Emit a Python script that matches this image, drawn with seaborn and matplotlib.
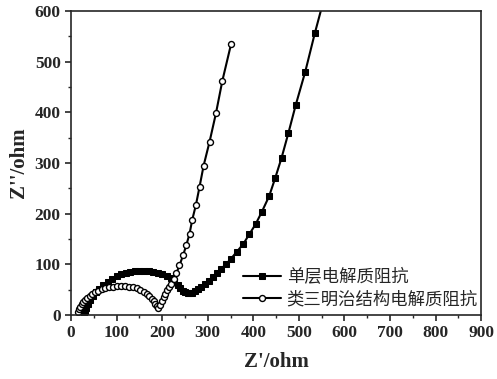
import matplotlib
matplotlib.use("Agg")
import matplotlib.pyplot as plt
import seaborn as sns
from matplotlib.ticker import MultipleLocator

# Data (Nyquist plots)
single_x = [28, 30, 33, 37, 42, 48, 55, 62, 70, 80, 90, 100, 110, 120, 130, 140, 150,
            160, 170, 180, 190, 200, 210, 219, 227, 234, 240, 246, 251, 256, 261, 266,
            272, 279, 286, 294, 302, 311, 320, 329, 340, 351, 364, 378, 391, 405, 419,
            435, 448, 462, 477, 493, 514, 535, 560]
single_y = [3, 8, 14, 21, 29, 37, 45, 52, 59, 65, 71, 76, 80, 83, 85, 86, 87,
            87, 86, 85, 83, 80, 77, 72, 66, 59, 53, 48, 45, 43, 43, 44,
            47, 51, 56, 62, 68, 75, 82, 91, 100, 111, 125, 140, 159, 179, 204,
            235, 270, 310, 359, 414, 480, 556, 640]

sandwich_x = [15, 17, 20, 23, 27, 31, 36, 41, 47, 53, 60, 67, 75, 83, 91, 100, 109,
              118, 127, 136, 144, 152, 159, 166, 172, 177, 181, 185, 188, 191, 195,
              199, 203, 207, 211, 215, 220, 225, 231, 238, 246, 253, 260, 266, 274,
              282, 291, 304, 318, 332, 351]
sandwich_y = [6, 11, 16, 21, 26, 30, 34, 38, 42, 45, 48, 51, 53, 55, 56, 57, 57,
              57, 56, 55, 53, 50, 46, 42, 37, 32, 27, 22, 17, 13, 20,
              27, 35, 42, 49, 55, 62, 70, 82, 98, 118, 138, 160, 188, 217,
              253, 295, 342, 398, 462, 534]

labels = ["单层电解质阻抗", "类三明治结构电解质阻抗"]

sns.set_style("ticks")
plt.rcParams["font.family"] = ["Liberation Serif", "Noto Sans CJK SC"]
plt.rcParams["font.weight"] = "bold"

fig = plt.figure(figsize=(4.97, 3.79), dpi=100)
ax = fig.add_axes([0.143, 0.169, 0.825, 0.802])

sns.lineplot(x=single_x, y=single_y, sort=False, ax=ax, color="black", lw=1.5,
             marker="s", markersize=4.3, markerfacecolor="black", markeredgecolor="black",
             label=labels[0])
sns.lineplot(x=sandwich_x, y=sandwich_y, sort=False, ax=ax, color="black", lw=1.5,
             marker="o", markersize=4.3, markerfacecolor="white", markeredgecolor="black",
             markeredgewidth=1.0, label=labels[1])

ax.set_xlim(0, 900)
ax.set_ylim(0, 600)
ax.xaxis.set_major_locator(MultipleLocator(100))
ax.xaxis.set_minor_locator(MultipleLocator(50))
ax.yaxis.set_major_locator(MultipleLocator(100))
ax.yaxis.set_minor_locator(MultipleLocator(50))
ax.tick_params(which="major", direction="out", length=4, width=1.2, labelsize=12.5)
ax.tick_params(which="minor", direction="out", length=2.5, width=1.0)
for sp in ax.spines.values():
    sp.set_linewidth(1.2)
    sp.set_visible(True)

ax.set_xlabel("Z'/ohm", fontsize=15, fontweight="bold", labelpad=8)
ax.set_ylabel("Z''/ohm", fontsize=15, fontweight="bold", labelpad=4)

leg = ax.legend(loc="lower right", bbox_to_anchor=(1.03, -0.03), frameon=False,
                handlelength=2.2, handletextpad=0.3, labelspacing=0.25,
                prop={"family": ["Noto Sans CJK SC"], "size": 12.5, "weight": "normal"})

fig.canvas.draw()
for lab in ax.get_xticklabels() + ax.get_yticklabels():
    lab.set_fontweight("bold")

fig.savefig("out.png", dpi=100)
